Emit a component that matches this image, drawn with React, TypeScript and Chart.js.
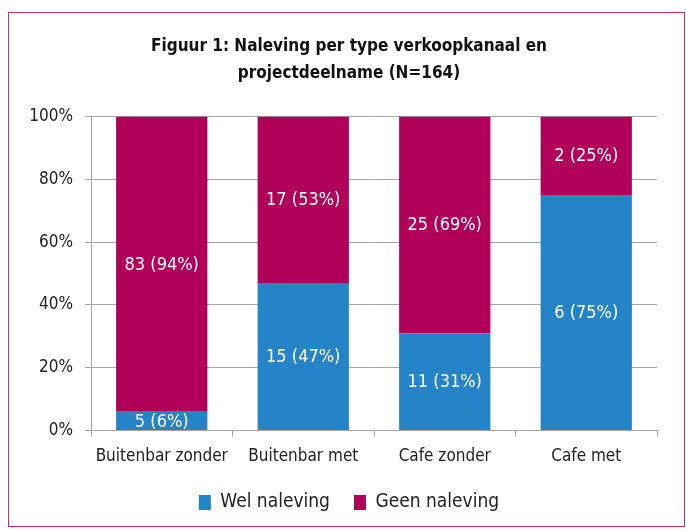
import React, { useEffect, useRef } from "react";
import { Chart, registerables } from "chart.js";

Chart.register(...registerables);

const categories = ["Buitenbar zonder", "Buitenbar met", "Cafe zonder", "Cafe met"];
const welCounts = [5, 15, 11, 6];
const welPct = [6, 47, 31, 75];
const geenCounts = [83, 17, 25, 2];
const geenPct = [94, 53, 69, 25];
const yTicks = [0, 20, 40, 60, 80, 100];

const FONT = "'DejaVu Sans Condensed', 'DejaVu Sans', sans-serif";

const labelPlugin = {
  id: "segLabels",
  afterDatasetsDraw(chart: any) {
    const ctx = chart.ctx;
    ctx.save();
    ctx.fillStyle = "#ffffff";
    ctx.font = `18px ${FONT}`;
    ctx.textAlign = "center";
    ctx.textBaseline = "middle";
    chart.data.datasets.forEach((ds: any, di: number) => {
      const meta = chart.getDatasetMeta(di);
      meta.data.forEach((el: any, i: number) => {
        const cy = (el.y + el.base) / 2;
        ctx.fillText(`${ds.counts[i]} (${ds.data[i]}%)`, el.x, cy + 1);
      });
    });
    ctx.restore();
  },
};

// centre title and legend over the framed figure rather than the whole canvas
const shiftPlugin = {
  id: "shiftBlocks",
  afterLayout(chart: any) {
    if (chart.titleBlock) chart.titleBlock.left = 41;
    if (chart.legend) {
      chart.legend.left = 41;
      chart.legend.top -= 8;
      chart.legend.bottom -= 8;
    }
  },
};

export default function App() {
  const ref = useRef<HTMLCanvasElement>(null);
  useEffect(() => {
    if (!ref.current) return;
    const chart = new Chart(ref.current, {
      type: "bar",
      data: {
        labels: categories,
        datasets: [
          { label: "Wel naleving", data: welPct, counts: welCounts, backgroundColor: "#2584c8" } as any,
          { label: "Geen naleving", data: geenPct, counts: geenCounts, backgroundColor: "#b0005a" } as any,
        ],
      },
      options: {
        animation: false,
        responsive: false,
        maintainAspectRatio: false,
        layout: { padding: { left: 0, right: 29, top: 0, bottom: 1 } },
        datasets: { bar: { categoryPercentage: 1, barPercentage: 0.645 } },
        scales: {
          x: {
            stacked: true,
            grid: { display: true, drawOnChartArea: false, color: "#a6a6a6", tickLength: 6, offset: true },
            border: { color: "#a6a6a6" },
            ticks: { color: "#222", font: { family: FONT, size: 17 }, padding: 10 },
          },
          y: {
            stacked: true,
            min: 0,
            max: 100,
            afterBuildTicks: (axis: any) => {
              axis.ticks = yTicks.map((v) => ({ value: v }));
            },
            afterFit: (axis: any) => {
              axis.width = 91;
            },
            grid: { color: "#a6a6a6", tickLength: 6 },
            border: { color: "#a6a6a6" },
            ticks: { color: "#222", font: { family: FONT, size: 17 }, padding: 12, callback: (v: any) => `${v}%` },
          },
        },
        plugins: {
          title: {
            display: true,
            text: ["Figuur 1: Naleving per type verkoopkanaal en", "projectdeelname (N=164)"],
            color: "#111",
            font: { family: FONT, size: 17, weight: "bold", lineHeight: 1.6 },
            padding: { top: 33, bottom: 29 },
          },
          legend: {
            position: "bottom",
            labels: {
              color: "#222",
              font: { family: FONT, size: 19 },
              boxWidth: 12,
              boxHeight: 15,
              padding: 24,
            },
          },
          tooltip: { enabled: false },
        },
      },
      plugins: [labelPlugin, shiftPlugin],
    });
    return () => chart.destroy();
  }, []);
  return (
    <div style={{ position: "absolute", left: 0, top: 0, width: 686, height: 531, background: "#fff" }}>
      <div
        style={{
          position: "absolute",
          left: 8,
          top: 12,
          width: 675,
          height: 513,
          border: "1.5px solid #c0306e",
        }}
      />
      <canvas ref={ref} width={686} height={531} style={{ position: "absolute", left: 0, top: 0 }} />
    </div>
  );
}
